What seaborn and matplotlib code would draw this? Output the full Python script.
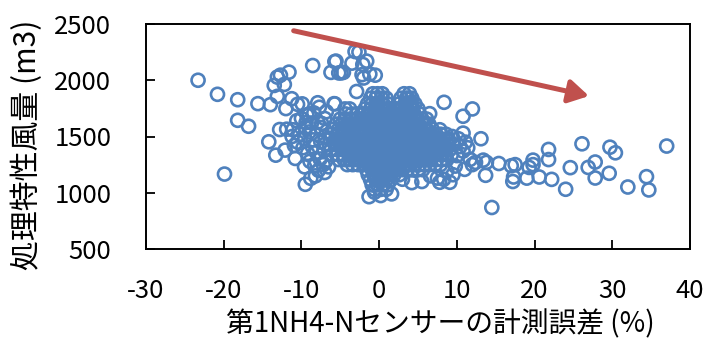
import matplotlib
matplotlib.use("Agg")
import matplotlib.pyplot as plt
import seaborn as sns
import pandas as pd

# ---------------- data ----------------
# scattered outer points: measurement error (%) and airflow (m3)
outer_x = [-23.3, -20.8, -18.2, -15.6, -14.0, -13.1, -13.5, -13.1, -12.7, -11.6,
           -12.2, -18.2, -16.8, -19.9, -14.2, -13.3, -12.1, -10.8, -12.8, -11.9,
           -11.1, -9.5, -8.8, -8.55, -5.55, -6.2, -5.2, -11.25, -10.5, -9.9,
           -7.9, -7.7, -5.8, -12.0, -9.0, -8.4, -9.4, -8.7, -7.9, -7.4,
           -3.1, -2.6, -5.7, -3.5, -4.9, -4.6, -2.1, -1.6, -2.2, -1.2,
           -0.5, -2.0, -2.9, -5.7, -4.4, 3.7, 4.0, 4.3, 6.5, 8.35, 3.1,
           -10.2, -9.6, -9.0, -8.5, -8.0, -7.5, -7.0, -9.8, -9.2, -8.6,
           -8.1, -7.6, -7.1, -8.9, -8.3, -7.8, -7.2, -9.5, -10.6, -10.0,
           -9.3, -7.0, -7.5, -6.8, -6.9, -6.5, -10.5, -11.2, -10.9, -8.2,
           -7.0, -9.6,
           7.8, 8.6, 9.4, 10.2, 10.8, 11.1, 10.4, 9.6, 8.9, 11.7,
           9.8, 8.7, 11.0, 9.1, 7.8, 10.0, 10.8, 11.4, 12.4, 12.0,
           6.6, 7.5, 5.5, 4.2, 3.0, 9.5, 8.3, 13.1, 10.8, 12.0,
           13.4, 13.8, 15.4, 17.0, 17.5, 19.3, 19.8, 19.8, 21.8, 21.8,
           24.6, 26.1, 26.9, 27.8, 29.6, 29.7, 30.4, 34.4, 34.7, 32.0,
           24.0, 27.8, 22.2, 20.6, 19.0, 17.2, 17.3, 13.7, 14.5, 37.0,
           -1.3, 0.2, 1.6, -0.6]
outer_y = [2000, 1875, 1827, 1792, 1783, 1857, 1954, 2028, 2045, 2072,
           1963, 1644, 1591, 1166, 1453, 1334, 1379, 1305, 1562, 1565,
           1560, 1075, 1128, 2131, 2170, 2070, 2065, 1836, 1786, 1790,
           1800, 1760, 1792, 1748, 1700, 1710, 1625, 1620, 1628, 1615,
           2255, 2250, 2166, 2152, 2065, 2070, 2140, 2170, 2050, 2055,
           2045, 2020, 1900, 1790, 1745, 1840, 1800, 1760, 1703, 1804, 1713,
           1520, 1480, 1540, 1470, 1520, 1450, 1500, 1400, 1350, 1410,
           1360, 1300, 1380, 1280, 1240, 1200, 1250, 1580, 1640, 1660,
           1690, 1660, 1580, 1720, 1280, 1230, 1450, 1500, 1420, 1150,
           1180, 1230,
           1560, 1520, 1500, 1480, 1530, 1450, 1410, 1430, 1460, 1296,
           1237, 1193, 1208, 1093, 1093, 1330, 1370, 1400, 1270, 1250,
           1150, 1130, 1100, 1090, 1120, 1160, 1120, 1480, 1680, 1745,
           1290, 1270, 1260, 1240, 1250, 1225, 1250, 1290, 1385, 1295,
           1223, 1435, 1225, 1273, 1173, 1405, 1355, 1143, 1025, 1051,
           1031, 1131, 1119, 1140, 1130, 1100, 1140, 1155, 869, 1415,
           965, 975, 990, 1005]

# dense central cluster, listed row by row (airflow level -> error values)
core_levels = [1880, 1840, 1790, 1745, 1700, 1655, 1610, 1565, 1520, 1475,
               1430, 1385, 1340, 1295, 1250, 1205, 1160, 1115, 1070, 1030]
core_x = [
    [-0.8, -0.2, 0.4, 3.2, 3.9],
    [-1.1, -0.4, 0.3, 0.9, 2.8, 3.5, 4.2],
    [-1.5, -0.9, -0.2, 0.5, 1.1, 2.6, 3.3, 4.0, 4.6],
    [-3.8, -1.8, -1.1, -0.5, 0.2, 0.8, 1.4, 2.3, 2.9, 3.6, 4.3, 5.0],
    [-4.3, -3.5, -2.8, -2.1, -1.4, -0.7, 0.0, 0.6, 1.3, 1.9, 2.5, 3.2, 3.8, 4.5, 5.2],
    [-5.0, -4.4, -3.7, -3.0, -2.4, -1.7, -1.0, -0.4, 0.3, 0.9, 1.6, 2.2, 2.9, 3.5,
     4.1, 4.8, 5.5, 6.1],
    [-5.5, -4.8, -4.1, -3.5, -2.8, -2.1, -1.5, -0.8, -0.1, 0.5, 1.2, 1.8, 2.5, 3.1,
     3.8, 4.4, 5.1, 5.8, 6.4],
    [-5.9, -5.2, -4.5, -3.9, -3.2, -2.5, -1.9, -1.2, -0.5, 0.2, 0.8, 1.5, 2.1, 2.8,
     3.5, 4.1, 4.8, 5.4, 6.1, 6.8],
    [-6.1, -5.4, -4.7, -4.0, -3.4, -2.7, -2.0, -1.3, -0.7, 0.0, 0.6, 1.3, 1.9, 2.6,
     3.3, 3.9, 4.6, 5.2, 5.9, 6.6, 7.3, 7.9],
    [-6.3, -5.6, -4.9, -4.3, -3.6, -2.9, -2.3, -1.6, -0.9, -0.3, 0.4, 1.0, 1.7, 2.3,
     3.0, 3.7, 4.3, 5.0, 5.6, 6.3, 7.0, 7.6, 8.3, 8.9],
    [-6.4, -5.7, -5.0, -4.4, -3.7, -3.0, -2.4, -1.7, -1.0, -0.4, 0.3, 0.9, 1.6, 2.2,
     2.9, 3.5, 4.2, 4.9, 5.5, 6.2, 6.8, 7.5, 8.2, 8.8],
    [-6.2, -5.5, -4.8, -4.1, -3.5, -2.8, -2.1, -1.5, -0.8, -0.1, 0.5, 1.2, 1.8, 2.5,
     3.1, 3.8, 4.5, 5.1, 5.8, 6.4, 7.1, 7.8, 8.4, 9.1],
    [-6.0, -5.3, -4.6, -3.9, -3.3, -2.6, -1.9, -1.3, -0.6, 0.1, 0.7, 1.4, 2.0, 2.7,
     3.3, 4.0, 4.7, 5.3, 6.0, 6.6, 7.3, 8.0, 8.6, 9.3],
    [-5.2, -4.5, -3.8, -3.1, -2.5, -1.8, -1.1, -0.5, 0.2, 0.8, 1.5, 2.1, 2.8, 3.4,
     4.1, 4.8, 5.4, 6.1, 6.7, 7.4, 8.1, 8.7],
    [-4.1, -3.4, -2.7, -2.0, -1.4, -0.7, 0.0, 0.6, 1.3, 1.9, 2.6, 3.2, 3.9, 4.6,
     5.2, 5.9, 6.5, 7.2, 7.9],
    [-1.6, -0.9, -0.3, 0.4, 1.0, 1.7, 2.3, 3.0, 3.6, 4.3, 5.0, 5.6],
    [-1.4, -0.7, 0.0, 0.6, 1.3, 1.9, 2.6],
    [-1.1, -0.4, 0.3, 0.9, 1.5],
    [-0.9, -0.2, 0.5, 1.1],
    [-0.6, 0.2, 0.9],
]

x_ticks = [-30, -20, -10, 0, 10, 20, 30, 40]
y_ticks = [500, 1000, 1500, 2000, 2500]
x_label = "第1NH4-Nセンサーの計測誤差 (%)"
y_label = "処理特性風量 (m3)"
trend_start = (-11, 2440)
trend_end = (27, 1860)

# ---------------- build table ----------------
xs = list(outer_x)
ys = list(outer_y)
for lvl, row in zip(core_levels, core_x):
    xs.extend(row)
    ys.extend([lvl] * len(row))
df = pd.DataFrame({"err": xs, "flow": ys})

# ---------------- plot ----------------
sns.set_theme(style="white")
plt.rcParams["font.family"] = ["Noto Sans CJK JP", "DejaVu Sans"]

fig = plt.figure(figsize=(7.12, 3.46), dpi=100)
ax = fig.add_axes([146 / 712, 1 - 249 / 346, (690 - 146) / 712, (249 - 24) / 346])

blue = "#4F81BD"
sns.scatterplot(data=df, x="err", y="flow", ax=ax, marker="o", s=88,
                facecolor="none", edgecolor=blue, linewidth=1.9, legend=False)

ax.annotate("", xy=trend_end, xytext=trend_start,
            arrowprops=dict(arrowstyle="-|>,head_length=0.6,head_width=0.35",
                            color="#C0504D", lw=3.6, mutation_scale=20,
                            shrinkA=0, shrinkB=0))

ax.set_xlim(-30, 40)
ax.set_ylim(500, 2500)
ax.set_xticks(x_ticks)
ax.set_yticks(y_ticks)
ax.set_xticklabels([str(t) for t in x_ticks], fontsize=18.5)
ax.set_yticklabels([str(t) for t in y_ticks], fontsize=18.5)
ax.tick_params(axis="both", direction="in", length=6.5, width=1.3, color="black",
               labelcolor="black", bottom=True, left=True, top=False, right=False)
ax.tick_params(axis="y", pad=25)
ax.tick_params(axis="x", pad=21)
for sp in ax.spines.values():
    sp.set_color("black")
    sp.set_linewidth(1.4)

ax.set_xlabel("")
ax.set_ylabel("")
fig.text(440 / 712, 1 - 324 / 346, x_label, ha="center", va="center", fontsize=20, color="black")
fig.text(27 / 712, 1 - 145 / 346, y_label, ha="center", va="center", rotation=90,
         fontsize=21.5, color="black")

fig.savefig("out.png", dpi=100)
